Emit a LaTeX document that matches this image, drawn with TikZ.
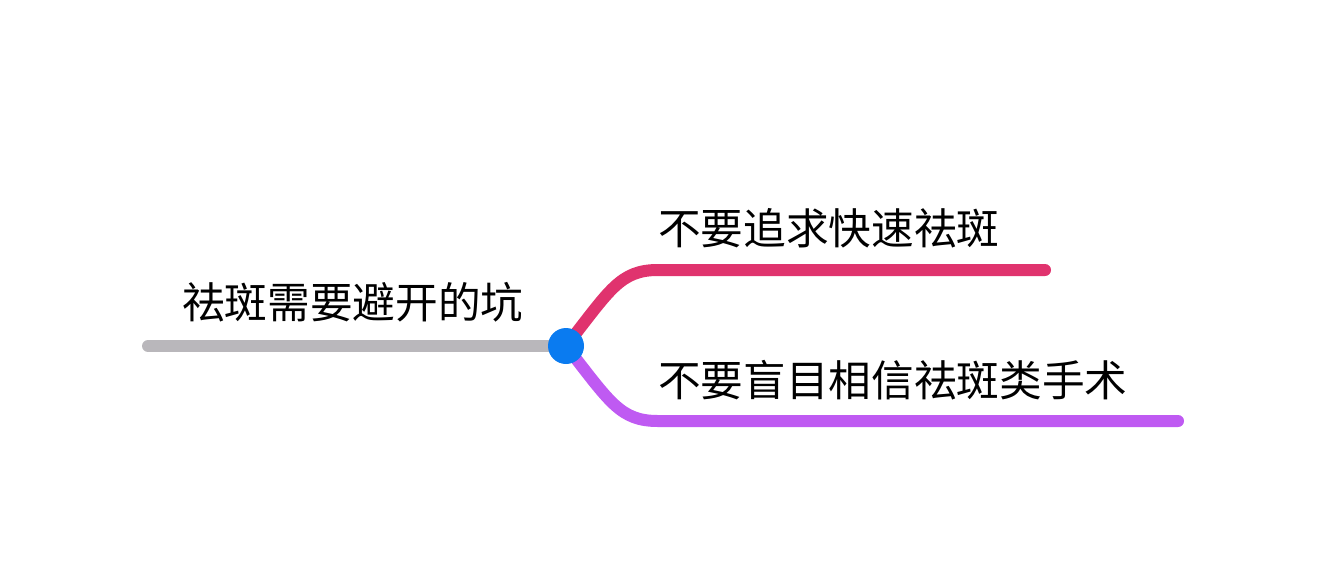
\documentclass[tikz,border=0pt]{standalone}
\usepackage{fontspec}
\newfontfamily\cjk{Noto Sans CJK SC}
\definecolor{cgray}{HTML}{B9B7BB}
\definecolor{cred}{HTML}{E0336E}
\definecolor{cpurple}{HTML}{BF5AF2}
\definecolor{cblue}{HTML}{0A7BF0}
\tikzset{lbl/.style={font=\cjk\fontsize{32}{38}\selectfont, inner sep=0pt},
 br/.style={line width=9pt, line cap=round}}
\begin{document}
\begin{tikzpicture}[x=0.75pt,y=-0.75pt]
\useasboundingbox (0,0) rectangle (1326,572);
\coordinate (r0) at (148,346);
\coordinate (hub) at (566,346);
\coordinate (a1) at (658,270);
\coordinate (a2) at (1045,270);
\coordinate (b1) at (658,421);
\coordinate (b2) at (1178,421);
\draw[br,cgray] (r0) -- (hub);
\draw[br,cred] (hub) .. controls (610,290) and (620,270) .. (a1) -- (a2);
\draw[br,cpurple] (hub) .. controls (610,402) and (620,421) .. (b1) -- (b2);
\node[circle,fill=cblue,minimum size=27pt,inner sep=0pt] (dot) at (hub) {};
\node[lbl,anchor=west] (root) at (182,302) {祛斑需要避开的坑};
\node[lbl,anchor=west] (ta) at (658,228) {不要追求快速祛斑};
\node[lbl,anchor=west] (tb) at (658,380) {不要盲目相信祛斑类手术};
\end{tikzpicture}
\end{document}
